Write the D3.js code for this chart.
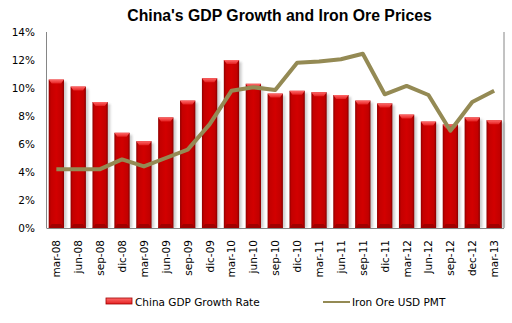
<!DOCTYPE html>
<html><head><meta charset="utf-8">
<script src="https://cdn.jsdelivr.net/npm/d3@7"></script>
<style>body{margin:0;background:#fff}svg{display:block}</style>
</head><body>
<svg id="c" width="512" height="323"></svg>
<script>
const categories = ["mar-08","jun-08","sep-08","dic-08","mar-09","jun-09","sep-09","dic-09","mar-10","jun-10","sep-10","dic-10","mar-11","jun-11","sep-11","dic-11","mar-12","Jun-12","sep-12","dec-12","mar-13"];
const gdpGrowth = [10.6,10.1,9.0,6.8,6.2,7.9,9.1,10.7,12.0,10.3,9.6,9.8,9.7,9.5,9.1,8.9,8.1,7.6,7.4,7.9,7.7];
const ironOre = [4.2,4.2,4.2,4.9,4.4,5.0,5.6,7.4,9.8,10.05,9.85,11.8,11.9,12.05,12.45,9.55,10.15,9.5,6.95,9.0,9.8];
const yTicks = [0,2,4,6,8,10,12,14];

const svg = d3.select("#c");
const L = 46.5, R = 504, T = 32, B = 228;
const x = d3.scaleBand().domain(categories).range([L, R]).paddingInner(0.3).paddingOuter(0.1);
const y = d3.scaleLinear().domain([0, 14]).range([B, T]);
const font = "'DejaVu Sans', sans-serif";

const defs = svg.append("defs");
const g = defs.append("linearGradient").attr("id","barG").attr("x1","0").attr("x2","1").attr("y1","0").attr("y2","0");
[["0%","#8e0000"],["14%","#c40000"],["50%","#d20000"],["86%","#c20000"],["100%","#860000"]].forEach(s=>g.append("stop").attr("offset",s[0]).attr("stop-color",s[1]));
const gc = defs.append("linearGradient").attr("id","capG").attr("x1","0").attr("x2","0").attr("y1","0").attr("y2","1");
[["0%","#ff6a6a"],["100%","#e42020"]].forEach(s=>gc.append("stop").attr("offset",s[0]).attr("stop-color",s[1]));
const f = defs.append("filter").attr("id","sh").attr("x","-20%").attr("y","-5%").attr("width","160%").attr("height","110%");
f.append("feGaussianBlur").attr("stdDeviation","1.2");

// title
svg.append("text").attr("x", 279.5).attr("y", 21).attr("text-anchor","middle")
  .attr("font-family","'Liberation Sans', Arial, sans-serif").attr("font-weight","bold").attr("font-size", 15.8).text("China's GDP Growth and Iron Ore Prices");

// y labels
svg.append("g").selectAll("text").data(yTicks).join("text")
  .attr("x", 35).attr("y", d => y(d) + 4).attr("text-anchor","end")
  .attr("font-family", font).attr("font-size", 10.5).attr("fill","#000").text(d => d + "%");

const bw = x.bandwidth();
// shadows
svg.append("g").selectAll("rect").data(categories).join("rect")
  .attr("x", (d) => x(d) + 2.5).attr("y", (d,i) => y(gdpGrowth[i]) + 2).attr("width", bw).attr("height", (d,i) => B - y(gdpGrowth[i]) - 2)
  .attr("fill", "#b8b8b8").attr("opacity", 0.7).attr("filter","url(#sh)");
// bars
const bars = svg.append("g").selectAll("g").data(categories).join("g");
bars.append("rect").attr("x", d => x(d)).attr("y", (d,i) => y(gdpGrowth[i])).attr("width", bw).attr("height", (d,i) => B - y(gdpGrowth[i])).attr("fill","url(#barG)");
bars.append("path").attr("d", (d,i) => {
  const x0 = x(d), yt = y(gdpGrowth[i]);
  return `M${x0},${yt}L${x0+bw},${yt}L${x0+bw-3},${yt+4}L${x0+3},${yt+4}Z`;
}).attr("fill","url(#capG)");
bars.append("path").attr("d", (d) => {
  const x0 = x(d);
  return `M${x0},${B}L${x0+bw},${B}L${x0+bw-3},${B-4}L${x0+3},${B-4}Z`;
}).attr("fill","#a00000");

// axes lines
svg.append("line").attr("x1", L).attr("x2", L).attr("y1", T).attr("y2", B).attr("stroke","#868686").attr("stroke-width",1);
svg.append("line").attr("x1", R).attr("x2", R).attr("y1", T).attr("y2", B).attr("stroke","#868686").attr("stroke-width",1);
svg.append("line").attr("x1", L).attr("x2", R).attr("y1", B + 0.5).attr("y2", B + 0.5).attr("stroke","#868686").attr("stroke-width",1);

// line
const line = d3.line().x((d,i) => x(categories[i]) + bw/2).y(d => y(d));
svg.append("path").datum(ironOre).attr("d", line).attr("fill","none").attr("stroke","#948a54").attr("stroke-width",4).attr("stroke-linejoin","round");

// x labels
svg.append("g").selectAll("text").data(categories).join("text")
  .attr("transform", d => `translate(${x(d) + bw/2 + 4},${240}) rotate(-90)`)
  .attr("text-anchor","end").attr("font-family", font).attr("font-size", 10.5).text(d => d);

// legend
svg.append("rect").attr("x",106).attr("y",298).attr("width",26).attr("height",6).attr("fill","url(#capG)").attr("stroke","#a00000").attr("stroke-width",0.8);
svg.append("text").attr("x",135).attr("y",306).attr("font-family",font).attr("font-size",10.5).text("China GDP Growth Rate");
svg.append("line").attr("x1",323).attr("x2",350).attr("y1",302).attr("y2",302).attr("stroke","#948a54").attr("stroke-width",2);
svg.append("text").attr("x",352).attr("y",306).attr("font-family",font).attr("font-size",10.5).text("Iron Ore USD PMT");
</script>
</body></html>
